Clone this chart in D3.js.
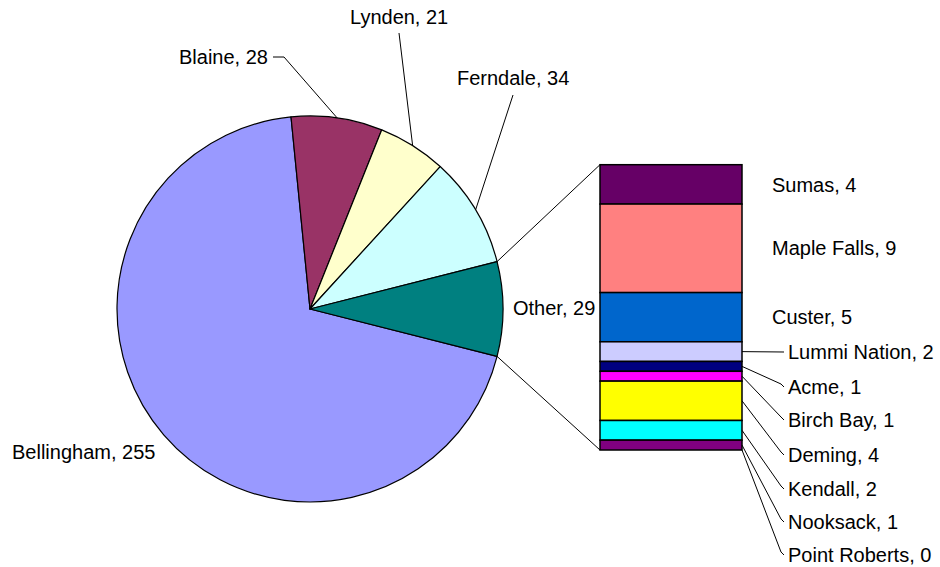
<!DOCTYPE html>
<html>
<head>
<meta charset="utf-8">
<script src="https://cdn.jsdelivr.net/npm/d3@7"></script>
<style>
  html, body { margin: 0; padding: 0; background: #ffffff; }
  svg { display: block; }
  text { font-family: "Liberation Sans", Arial, sans-serif; font-size: 20px; fill: #000; }
</style>
</head>
<body>
<svg id="chart" width="940" height="567"></svg>
<script>
// ---- data ----
const mainCategories = ["Bellingham", "Blaine", "Lynden", "Ferndale"];
const mainValues = [255, 28, 21, 34];
const mainColors = ["#9999FF", "#993366", "#FFFFCC", "#CCFFFF"];
const otherLabel = "Other";
const otherColor = "#008080";
const otherCategories = ["Sumas", "Maple Falls", "Custer", "Lummi Nation", "Acme", "Birch Bay", "Deming", "Kendall", "Nooksack", "Point Roberts"];
const otherValues = [4, 9, 5, 2, 1, 1, 4, 2, 1, 0];
const otherColors = ["#660066", "#FF8080", "#0066CC", "#CCCCFF", "#000080", "#FF00FF", "#FFFF00", "#00FFFF", "#800080", "#800000"];

// ---- layout ----
const svg = d3.select("#chart");
const cx = 310, cy = 309, R = 193;
const barX0 = 600, barX1 = 742, barTop = 164.7, barBottom = 450;

const otherTotal = d3.sum(otherValues);
const pieData = mainCategories.map((c, i) => ({ name: c, value: mainValues[i], color: mainColors[i] }))
  .concat([{ name: otherLabel, value: otherTotal, color: otherColor }]);
const total = d3.sum(pieData, d => d.value);
const otherAngle = otherTotal / total * 2 * Math.PI;
const start = Math.PI / 2 + otherAngle / 2;

const pie = d3.pie().sort(null).value(d => d.value).startAngle(start).endAngle(start + 2 * Math.PI);
const arcs = pie(pieData);
const arc = d3.arc().innerRadius(0).outerRadius(R);

const g = svg.append("g").attr("transform", `translate(${cx},${cy})`);
g.selectAll("path").data(arcs).join("path")
  .attr("d", arc)
  .attr("fill", d => d.data.color)
  .attr("stroke", "#000").attr("stroke-width", 1.2).attr("stroke-linejoin", "round");

function pt(angle, r) { return [cx + r * Math.sin(angle), cy - r * Math.cos(angle)]; }

// connector lines from Other slice to bar
const oArc = arcs[arcs.length - 1];
const pA = pt(oArc.startAngle, R), pB = pt(oArc.endAngle, R);
svg.append("line").attr("x1", pA[0]).attr("y1", pA[1]).attr("x2", barX0).attr("y2", barTop).attr("stroke", "#000").attr("stroke-width", 1);
svg.append("line").attr("x1", pB[0]).attr("y1", pB[1]).attr("x2", barX0).attr("y2", barBottom).attr("stroke", "#000").attr("stroke-width", 1);

// bar of pie
const y = d3.scaleLinear().domain([0, otherTotal]).range([barTop, barBottom]);
let acc = 0;
const segs = otherCategories.map((c, i) => {
  const s = { name: c, value: otherValues[i], color: otherColors[i], y0: acc, y1: acc + otherValues[i] };
  acc += otherValues[i];
  return s;
});
svg.append("g").selectAll("rect").data(segs).join("rect")
  .attr("x", barX0).attr("width", barX1 - barX0)
  .attr("y", d => y(d.y0)).attr("height", d => y(d.y1) - y(d.y0))
  .attr("fill", d => d.color)
  .attr("stroke", "#000").attr("stroke-width", 1.5);

// ---- pie labels ----
const pieLabelPos = {
  "Bellingham": { x: 12, y: 452, leader: null },
  "Blaine": { x: 179, y: 57, leader: [[273, 57], [284, 57]] },
  "Lynden": { x: 350, y: 17, leader: [[399, 33]] },
  "Ferndale": { x: 457, y: 78, leader: [[513, 95]] },
  "Other": { x: 513, y: 308, leader: null }
};
arcs.forEach(a => {
  const L = pieLabelPos[a.data.name];
  svg.append("text").attr("x", L.x).attr("y", L.y).attr("dy", "0.35em").text(`${a.data.name}, ${a.data.value}`);
  if (L.leader) {
    const mid = (a.startAngle + a.endAngle) / 2;
    const pts = L.leader.concat([pt(mid, R)]);
    svg.append("path").attr("d", d3.line()(pts)).attr("fill", "none").attr("stroke", "#000").attr("stroke-width", 1);
  }
});

// ---- bar labels ----
const barLabelPos = {
  "Sumas": { x: 772, y: 185, leader: false },
  "Maple Falls": { x: 772, y: 248, leader: false },
  "Custer": { x: 772, y: 317, leader: false },
  "Lummi Nation": { x: 788, y: 352, leader: true },
  "Acme": { x: 788, y: 387, leader: true },
  "Birch Bay": { x: 788, y: 420, leader: true },
  "Deming": { x: 788, y: 455, leader: true },
  "Kendall": { x: 788, y: 489, leader: true },
  "Nooksack": { x: 788, y: 522, leader: true },
  "Point Roberts": { x: 788, y: 555, leader: true }
};
segs.forEach(s => {
  const L = barLabelPos[s.name];
  svg.append("text").attr("x", L.x).attr("y", L.y).attr("dy", "0.35em").text(`${s.name}, ${s.value}`);
  if (L.leader) {
    const ym = (y(s.y0) + y(s.y1)) / 2;
    const pts = Math.abs(L.y - ym) < 4
      ? [[barX1, ym], [L.x - 4, L.y]]
      : [[barX1, ym], [L.x - 7, L.y - 3], [L.x - 4, L.y]];
    svg.append("path").attr("d", d3.line()(pts)).attr("fill", "none").attr("stroke", "#000").attr("stroke-width", 1);
  }
});
</script>
</body>
</html>
